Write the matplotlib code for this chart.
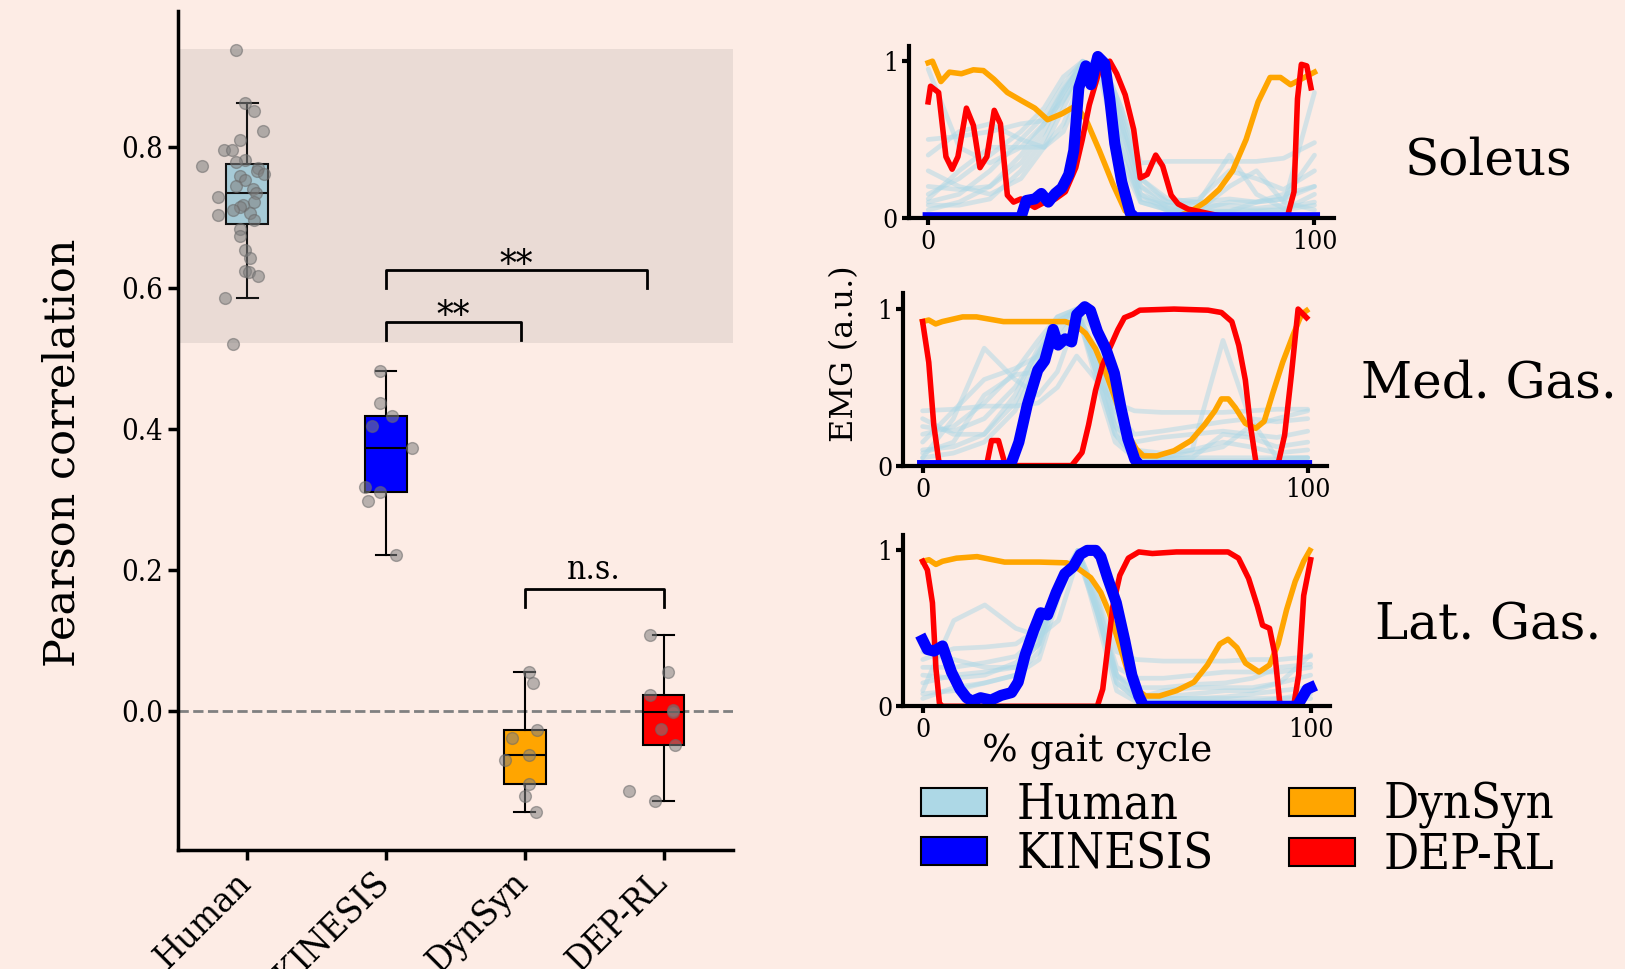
import matplotlib
matplotlib.use('Agg')
import matplotlib.pyplot as plt
import matplotlib.transforms as mtransforms
from matplotlib.patches import Patch
from matplotlib.font_manager import FontProperties

BG = '#fdece5'
plt.rcParams['font.family'] = ['DejaVu Serif']

# ---------------- data: box plot ----------------
categories = ['Human', 'KINESIS', 'DynSyn', 'DEP-RL']
box_colors = ['lightblue', 'blue', 'orange', 'red']

human_r = [0.937, 0.862, 0.850, 0.822, 0.810, 0.795, 0.795, 0.781, 0.779, 0.773,
           0.770, 0.765, 0.762, 0.758, 0.753, 0.745, 0.740, 0.734, 0.729, 0.722,
           0.717, 0.714, 0.710, 0.706, 0.703, 0.696, 0.684, 0.674, 0.654, 0.642,
           0.624, 0.623, 0.617, 0.586, 0.520]
human_jit = [-0.08, -0.02, 0.05, 0.11, -0.05, -0.17, -0.11, -0.02, -0.08, -0.33,
             0.08, 0.07, 0.12, -0.05, -0.02, -0.08, 0.04, 0.06, -0.21, 0.05,
             -0.03, -0.05, -0.10, 0.02, -0.21, 0.05, -0.05, -0.05, -0.02, 0.02,
             -0.02, 0.01, 0.08, -0.16, -0.10]
kinesis_r = [0.482, 0.436, 0.418, 0.404, 0.373, 0.318, 0.311, 0.298, 0.221]
kinesis_jit = [-0.04, -0.04, 0.04, -0.10, 0.19, -0.15, -0.04, -0.13, 0.07]
dynsyn_r = [0.055, 0.040, -0.027, -0.039, -0.062, -0.069, -0.103, -0.120, -0.144]
dynsyn_jit = [0.03, 0.06, 0.09, -0.09, 0.03, -0.14, 0.03, 0.00, 0.08]
deprl_r = [0.108, 0.055, 0.023, 0.001, -0.002, -0.025, -0.048, -0.114, -0.128]
deprl_jit = [-0.10, 0.03, -0.10, 0.07, 0.07, -0.02, 0.08, -0.25, -0.06]

# significance brackets: (x1, x2, leg bottom, bar height, label)
sig_x1 = [1.0, 1.0, 2.0]
sig_x2 = [1.97, 2.88, 3.0]
sig_low = [0.526, 0.600, 0.147]
sig_high = [0.552, 0.625, 0.1735]
sig_text = ['**', '**', 'n.s.']

human_band = (0.521, 0.938)

# ---------------- data: EMG curves ----------------
muscles = ['Soleus', 'Med. Gas.', 'Lat. Gas.']
human_x = [0, 8, 16, 24, 30, 35, 40, 45, 50, 55, 62, 70, 78, 85, 92, 100]

sol_human = [
    [0.95, 0.45, 0.35, 0.45, 0.60, 0.80, 0.98, 0.95, 0.55, 0.20, 0.10, 0.08, 0.08, 0.06, 0.08, 0.80],
    [0.50, 0.52, 0.55, 0.60, 0.62, 0.75, 0.95, 1.00, 0.70, 0.35, 0.36, 0.36, 0.36, 0.36, 0.38, 0.48],
    [0.40, 0.55, 0.60, 0.50, 0.45, 0.55, 0.85, 1.00, 0.60, 0.25, 0.12, 0.10, 0.12, 0.10, 0.12, 0.40],
    [0.15, 0.25, 0.40, 0.55, 0.70, 0.90, 1.00, 0.90, 0.40, 0.12, 0.08, 0.10, 0.40, 0.15, 0.06, 0.10],
    [0.10, 0.15, 0.30, 0.50, 0.65, 0.85, 1.00, 0.85, 0.35, 0.10, 0.05, 0.05, 0.05, 0.05, 0.05, 0.15],
    [0.20, 0.18, 0.20, 0.35, 0.55, 0.80, 1.00, 0.95, 0.45, 0.15, 0.08, 0.05, 0.10, 0.10, 0.12, 0.20],
    [0.05, 0.10, 0.20, 0.40, 0.60, 0.82, 0.98, 1.00, 0.60, 0.15, 0.04, 0.03, 0.04, 0.04, 0.05, 0.08],
    [0.30, 0.20, 0.15, 0.25, 0.45, 0.70, 0.95, 1.00, 0.70, 0.25, 0.10, 0.12, 0.30, 0.25, 0.18, 0.30],
    [0.12, 0.30, 0.45, 0.45, 0.45, 0.60, 0.90, 1.00, 0.50, 0.10, 0.05, 0.05, 0.20, 0.30, 0.10, 0.05],
    [0.08, 0.08, 0.12, 0.30, 0.50, 0.75, 0.95, 1.00, 0.65, 0.20, 0.06, 0.04, 0.04, 0.10, 0.15, 0.20],
]
med_human = [
    [0.05, 0.30, 0.75, 0.55, 0.45, 0.60, 0.95, 0.70, 0.25, 0.08, 0.05, 0.10, 0.80, 0.30, 0.05, 0.05],
    [0.35, 0.36, 0.38, 0.38, 0.40, 0.50, 0.70, 0.55, 0.40, 0.35, 0.34, 0.34, 0.34, 0.35, 0.36, 0.36],
    [0.20, 0.25, 0.40, 0.60, 0.80, 0.95, 1.00, 0.70, 0.30, 0.10, 0.08, 0.10, 0.15, 0.12, 0.08, 0.10],
    [0.10, 0.12, 0.20, 0.45, 0.75, 0.95, 1.00, 0.60, 0.20, 0.05, 0.05, 0.05, 0.05, 0.05, 0.05, 0.05],
    [0.30, 0.20, 0.20, 0.40, 0.70, 0.92, 0.98, 0.75, 0.35, 0.20, 0.22, 0.25, 0.28, 0.30, 0.28, 0.30],
    [0.15, 0.35, 0.55, 0.62, 0.70, 0.85, 1.00, 0.55, 0.15, 0.05, 0.04, 0.05, 0.20, 0.18, 0.12, 0.15],
    [0.05, 0.08, 0.15, 0.35, 0.65, 0.90, 1.00, 0.85, 0.40, 0.10, 0.03, 0.03, 0.03, 0.03, 0.04, 0.05],
    [0.25, 0.22, 0.30, 0.50, 0.72, 0.92, 1.00, 0.65, 0.25, 0.15, 0.18, 0.20, 0.22, 0.20, 0.18, 0.22],
    [0.08, 0.15, 0.45, 0.58, 0.60, 0.80, 0.98, 0.60, 0.20, 0.05, 0.05, 0.08, 0.12, 0.25, 0.30, 0.35],
]
lat_human = [
    [0.10, 0.55, 0.65, 0.50, 0.45, 0.55, 0.95, 0.60, 0.15, 0.05, 0.05, 0.05, 0.05, 0.05, 0.05, 0.05],
    [0.30, 0.37, 0.38, 0.40, 0.50, 0.75, 1.00, 0.70, 0.35, 0.30, 0.29, 0.29, 0.29, 0.30, 0.30, 0.32],
    [0.15, 0.20, 0.22, 0.25, 0.40, 0.80, 1.00, 0.60, 0.15, 0.05, 0.10, 0.12, 0.12, 0.12, 0.15, 0.20],
    [0.05, 0.12, 0.15, 0.20, 0.35, 0.75, 1.00, 0.55, 0.10, 0.03, 0.03, 0.03, 0.03, 0.03, 0.05, 0.08],
    [0.25, 0.25, 0.28, 0.32, 0.45, 0.80, 0.98, 0.65, 0.25, 0.18, 0.18, 0.20, 0.22, 0.22, 0.22, 0.25],
    [0.35, 0.30, 0.25, 0.25, 0.40, 0.78, 1.00, 0.60, 0.20, 0.08, 0.06, 0.08, 0.10, 0.10, 0.15, 0.33],
    [0.08, 0.10, 0.15, 0.20, 0.30, 0.70, 1.00, 0.70, 0.20, 0.06, 0.05, 0.05, 0.06, 0.08, 0.10, 0.12],
    [0.20, 0.18, 0.20, 0.28, 0.42, 0.76, 0.98, 0.62, 0.20, 0.12, 0.12, 0.14, 0.15, 0.18, 0.25, 0.27],
]

# Soleus model curves
sol_dyn_x = [0, 1.1, 3.3, 5.5, 8.6, 11.7, 14.3, 17, 20.5, 24, 27.6, 30.9, 34.6, 38.2, 40.8, 44.3,
             47.9, 51, 54, 64.7, 68.2, 71.7, 75.3, 78.8, 82.3, 85.4, 88.5, 91.2, 93.8, 96.5, 100]
sol_dyn_y = [0.99, 1.0, 0.87, 0.93, 0.92, 0.945, 0.94, 0.885, 0.80, 0.75, 0.70, 0.626, 0.664, 0.715,
             0.63, 0.43, 0.21, 0.044, 0.01, 0.01, 0.044, 0.10, 0.18, 0.30, 0.50, 0.74, 0.896, 0.896,
             0.85, 0.885, 0.93]
sol_dep_x = [0, 0.6, 2.7, 4.6, 6.2, 7.7, 9.9, 11.7, 13.4, 15.2, 17.1, 18.7, 20.5, 22.1, 24, 27.6,
             30.2, 32.9, 35.5, 38.2, 39.9, 41.7, 44.3, 47, 48.8, 51, 53.2, 54.9, 56.7, 58.9, 60.7,
             62.9, 64.7, 67.3, 73.5, 77.9, 92.9, 94.7, 95.6, 96.6, 98, 99.1]
sol_dep_y = [0.74, 0.84, 0.80, 0.39, 0.31, 0.39, 0.70, 0.59, 0.32, 0.39, 0.686, 0.60, 0.144, 0.10,
             0.12, 0.066, 0.10, 0.12, 0.166, 0.32, 0.50, 0.72, 0.94, 1.0, 0.92, 0.785, 0.564, 0.254,
             0.277, 0.40, 0.33, 0.144, 0.088, 0.055, 0.022, 0.0, 0.0, 0.166, 0.76, 0.98, 0.97, 0.83]
sol_kin_x = [0, 24, 25.4, 27.6, 29.3, 31.1, 32.9, 34.6, 36.4, 37.7, 39.0, 40.8, 42.1, 43.9, 45.7,
             47, 48.3, 50.1, 52.3, 53.6, 100]
sol_kin_y = [0.0, 0.0, 0.11, 0.12, 0.155, 0.10, 0.155, 0.19, 0.277, 0.43, 0.83, 0.97, 0.85, 1.03,
             0.985, 0.76, 0.475, 0.23, 0.03, 0.0, 0.0]

# Med. Gas. model curves
med_dyn_x = [0, 1.6, 3.4, 5.1, 10.4, 14, 21, 29.9, 37, 39.6, 42.3, 44.9, 47.6, 50.2, 52.9, 55.5,
             57.3, 60.8, 65.3, 69.7, 73.2, 75.9, 77.6, 79.4, 81.2, 83.8, 86.5, 88.7, 90.9, 93.5,
             96.2, 98.4, 99.7]
med_dyn_y = [0.92, 0.93, 0.905, 0.92, 0.95, 0.95, 0.92, 0.92, 0.92, 0.90, 0.845, 0.746, 0.59,
             0.415, 0.216, 0.106, 0.062, 0.062, 0.095, 0.16, 0.26, 0.35, 0.426, 0.426, 0.37, 0.27,
             0.238, 0.283, 0.46, 0.66, 0.834, 0.967, 0.99]
med_dep_x = [0, 1.6, 2.9, 4.2, 5.1, 16.6, 17.9, 19.7, 21.5, 38.7, 41.4, 43.1, 44.9, 46.7, 48.5,
             50.7, 52.4, 54.6, 56.4, 65.3, 74.1, 77.6, 80.3, 82.1, 83.8, 85.1, 86.5, 87.4, 92.2,
             94, 95.8, 97.5, 99.7]
med_dep_y = [0.92, 0.66, 0.26, 0.03, 0.0, 0.0, 0.16, 0.16, 0.0, 0.0, 0.084, 0.26, 0.48, 0.64,
             0.746, 0.868, 0.945, 0.967, 0.993, 1.0, 0.993, 0.978, 0.92, 0.768, 0.547, 0.26, 0.03,
             0.0, 0.0, 0.194, 0.59, 1.0, 0.945]
med_kin_x = [0, 22.8, 25, 27.2, 29.9, 31.7, 33.9, 35.2, 37, 38.7, 40, 42.1, 43.6, 45.4, 47.6,
             49.8, 51.5, 53.3, 55.1, 56.4, 99.7]
med_kin_y = [0.0, 0.0, 0.15, 0.39, 0.61, 0.67, 0.87, 0.77, 0.81, 0.79, 0.965, 1.015, 0.99, 0.857,
             0.746, 0.59, 0.37, 0.17, 0.04, 0.0, 0.0]

# Lat. Gas. model curves
lat_dyn_x = [0, 1.6, 3.4, 5.1, 8.7, 14, 21.1, 30, 37.1, 39.7, 43.3, 45.9, 48.1, 50.4, 52.6, 55.2,
             57.4, 61, 65.4, 69.9, 73.4, 76.6, 78.7, 81, 83.2, 86.7, 89.4, 91.6, 93.8, 96, 98.2,
             99.8]
lat_dyn_y = [0.93, 0.94, 0.91, 0.93, 0.95, 0.96, 0.925, 0.925, 0.92, 0.89, 0.825, 0.73, 0.60, 0.42,
             0.243, 0.11, 0.066, 0.066, 0.10, 0.155, 0.265, 0.40, 0.43, 0.376, 0.277, 0.22, 0.265,
             0.40, 0.62, 0.80, 0.93, 1.0]
lat_dep_x = [0, 1.2, 2.5, 3.4, 4.3, 5.1, 45, 46.4, 47.7, 49, 50.8, 53, 55.7, 59.2, 65.4, 78.7,
             81.4, 84, 86.3, 87.6, 89.4, 90.8, 92, 92.9, 95.6, 96.9, 98.2, 100]
lat_dep_y = [0.93, 0.874, 0.664, 0.243, 0.02, 0.0, 0.0, 0.11, 0.376, 0.64, 0.84, 0.95, 0.99, 0.98,
             0.99, 0.99, 0.95, 0.82, 0.64, 0.52, 0.50, 0.33, 0.03, 0.0, 0.0, 0.2, 0.71, 0.94]
lat_kin_x = [0, 1.2, 2.9, 5.1, 7.4, 9.6, 11.3, 12.7, 14.9, 17.6, 20.2, 22.9, 24.6, 26.4, 28.6,
             30.4, 32.2, 34.4, 36.6, 38.8, 40.6, 42.4, 44.6, 45.9, 47.7, 49.9, 52.1, 53.9, 55.7,
             57, 96.5, 97.8, 99.1, 100]
lat_kin_y = [0.425, 0.365, 0.354, 0.387, 0.22, 0.11, 0.055, 0.033, 0.055, 0.04, 0.07, 0.088, 0.155,
             0.33, 0.487, 0.60, 0.586, 0.73, 0.85, 0.896, 0.974, 1.0, 1.0, 0.96, 0.82, 0.664, 0.42,
             0.2, 0.066, 0.0, 0.0, 0.055, 0.11, 0.12]

# ---------------- figure ----------------
cond = dict(family='DejaVu Serif', stretch='condensed')

fig = plt.figure(figsize=(16.25, 9.69), dpi=100, facecolor=BG)

ax = fig.add_axes([0.1095, 0.123, 0.3415, 0.866], facecolor=BG)
groups_r = [human_r, kinesis_r, dynsyn_r, deprl_r]
groups_j = [human_jit, kinesis_jit, dynsyn_jit, deprl_jit]
positions = list(range(len(categories)))
bp = ax.boxplot(groups_r, positions=positions, widths=0.3, patch_artist=True,
                showfliers=False, zorder=2,
                boxprops=dict(edgecolor='black', linewidth=1.5),
                medianprops=dict(color='black', linewidth=1.5),
                whiskerprops=dict(color='black', linewidth=1.5),
                capprops=dict(color='black', linewidth=1.5))
for patch, c in zip(bp['boxes'], box_colors):
    patch.set_facecolor(c)
ax.axhspan(human_band[0], human_band[1], color='gray', alpha=0.15, lw=0, zorder=2.5)
for pos, vals, jit in zip(positions, groups_r, groups_j):
    ax.scatter([pos + j for j in jit], vals, s=72, color='gray', alpha=0.55,
               edgecolors='dimgray', linewidths=1, zorder=4)
ax.axhline(0, color='gray', ls='--', lw=2, zorder=1)

for x1, x2, lo, hi, t in zip(sig_x1, sig_x2, sig_low, sig_high, sig_text):
    ax.plot([x1, x1, x2, x2], [lo, hi, hi, lo], color='black', lw=2, zorder=5)
    if t == '**':
        ax.text((x1 + x2) / 2, hi - 0.019, t, ha='center', va='bottom',
                fontproperties=FontProperties(size=27, **cond), zorder=5)
    else:
        ax.text((x1 + x2) / 2, hi + 0.003, t, ha='center', va='bottom',
                fontproperties=FontProperties(size=24, **cond), zorder=5)

ax.set_xlim(-0.5, 3.5)
ax.set_ylim(-0.197, 0.993)
ax.set_yticks([0.0, 0.2, 0.4, 0.6, 0.8])
ax.set_yticklabels(['0.0', '0.2', '0.4', '0.6', '0.8'], fontproperties=FontProperties(size=21, **cond))
ax.set_xticks(positions)
ax.set_xticklabels(categories, rotation=45, ha='right', va='top',
                   fontproperties=FontProperties(size=26, **cond))
ax.tick_params(axis='both', length=7, width=2.5, pad=4)
shift = mtransforms.ScaledTranslation(7 / 72, 0, fig.dpi_scale_trans)
for tk in ax.xaxis.get_major_ticks():
    tk.label1.set_transform(tk.label1.get_transform() + shift)
for s in ['top', 'right']:
    ax.spines[s].set_visible(False)
for s in ['left', 'bottom']:
    ax.spines[s].set_linewidth(2.5)
ax.set_ylabel('Pearson correlation', fontsize=31)
ax.yaxis.set_label_coords(-0.17, 0.473)

# right panels
panel_rects = [[0.5593, 0.7753, 0.2615, 0.1777],
               [0.5559, 0.5195, 0.2607, 0.1777],
               [0.5559, 0.2711, 0.2626, 0.1770]]
humans = [sol_human, med_human, lat_human]
dyn = [(sol_dyn_x, sol_dyn_y), (med_dyn_x, med_dyn_y), (lat_dyn_x, lat_dyn_y)]
dep = [(sol_dep_x, sol_dep_y), (med_dep_x, med_dep_y), (lat_dep_x, lat_dep_y)]
kin = [(sol_kin_x, sol_kin_y), (med_kin_x, med_kin_y), (lat_kin_x, lat_kin_y)]
title_y = [0.834, 0.604, 0.354]

for i in range(3):
    a = fig.add_axes(panel_rects[i], facecolor=BG)
    for h in humans[i]:
        a.plot(human_x, h, color='lightblue', lw=3.4, alpha=0.5, solid_capstyle='round')
    a.plot(*dyn[i], color='orange', lw=4)
    a.plot(*dep[i], color='red', lw=4)
    a.plot(*kin[i], color='blue', lw=8)
    a.set_xlim(-5, 105)
    a.set_ylim(0, 1.1)
    a.set_xticks([0, 100])
    a.set_yticks([0, 1])
    fp = FontProperties(size=19, **cond)
    a.set_xticklabels(['0', '100'], fontproperties=fp)
    a.set_yticklabels(['0', '1'], fontproperties=fp)
    a.tick_params(axis='both', length=5, width=3, pad=3)
    for s in ['top', 'right']:
        a.spines[s].set_visible(False)
    for s in ['left', 'bottom']:
        a.spines[s].set_linewidth(3)
    fig.text(0.916, title_y[i], muscles[i], ha='center', va='center', fontsize=36)
    if i == 1:
        a.set_ylabel('EMG (a.u.)', fontsize=23)
        a.yaxis.set_label_coords(-0.103, 0.65)
    if i == 2:
        a.set_xlabel('% gait cycle', fontsize=27)
        a.xaxis.set_label_coords(0.455, -0.15)

handles = [Patch(facecolor=c, edgecolor='black', lw=1.5, label=l)
           for c, l in zip(box_colors, categories)]
fig.legend(handles=handles, ncol=2, loc='upper left', bbox_to_anchor=(0.567, 0.193),
           frameon=False, prop=FontProperties(size=35, **cond), handlelength=1.36,
           handleheight=0.5, handletextpad=0.59, columnspacing=1.55, labelspacing=0.05,
           borderpad=0, borderaxespad=0)

fig.savefig('out.png', dpi=100, facecolor=BG)
